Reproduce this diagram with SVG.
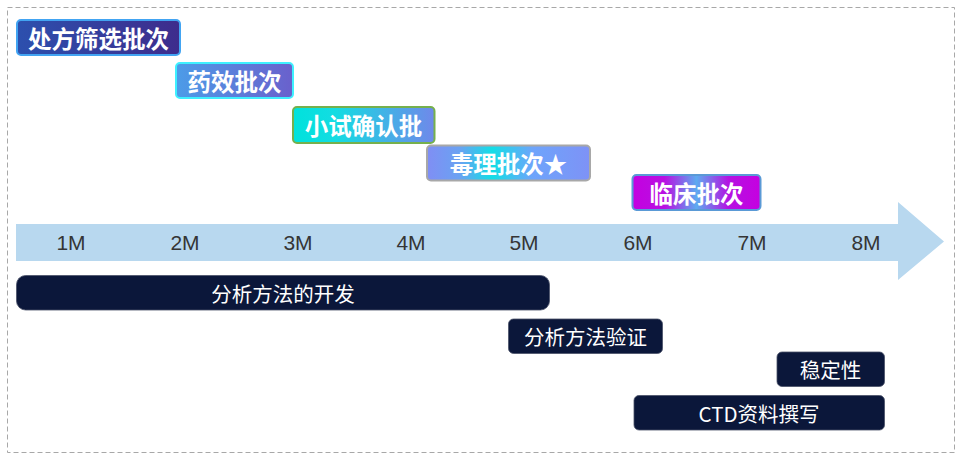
<svg xmlns="http://www.w3.org/2000/svg" width="963" height="462" viewBox="0 0 963 462">
<defs>
<style>
.batch{font-family:"Noto Sans CJK SC","Noto Sans",sans-serif;font-weight:bold;font-size:23.5px;fill:#ffffff;text-anchor:middle;dominant-baseline:central}
.axis{font-family:"Liberation Sans",Arial,sans-serif;font-size:21px;fill:#353535;text-anchor:middle;dominant-baseline:central}
.task{fill:#0b173a;stroke:#4a5268;stroke-width:0.8}
.tasktxt{font-family:"Noto Sans CJK SC","Liberation Sans",sans-serif;font-size:20.5px;fill:#ffffff;text-anchor:middle;dominant-baseline:central}
</style>
<linearGradient id="g1" x1="0" y1="0" x2="1" y2="0"><stop offset="0" stop-color="#2c50ae"/><stop offset="1" stop-color="#3e2c8c"/></linearGradient>
<linearGradient id="g2" x1="0" y1="0" x2="1" y2="0"><stop offset="0" stop-color="#4c9ce8"/><stop offset="1" stop-color="#6a60cc"/></linearGradient>
<linearGradient id="g3" x1="0" y1="0" x2="1" y2="0"><stop offset="0" stop-color="#00e2dc"/><stop offset="0.3" stop-color="#14dce2"/><stop offset="1" stop-color="#7088ea"/></linearGradient>
<linearGradient id="g4" x1="0" y1="0" x2="1" y2="0"><stop offset="0" stop-color="#808ef4"/><stop offset="0.2" stop-color="#6aa2f2"/><stop offset="0.4" stop-color="#12dee6"/><stop offset="0.65" stop-color="#6ea4fb"/><stop offset="1" stop-color="#7e92f6"/></linearGradient>
<linearGradient id="g5" x1="0" y1="0" x2="1" y2="0"><stop offset="0" stop-color="#c400e0"/><stop offset="0.25" stop-color="#b810e2"/><stop offset="0.5" stop-color="#5eaaf0"/><stop offset="0.75" stop-color="#b412e2"/><stop offset="1" stop-color="#c600e0"/></linearGradient>
</defs>
<rect x="0" y="0" width="963" height="462" fill="#ffffff"/>
<rect x="7.5" y="7.5" width="947" height="445" fill="none" stroke="#a8a8a8" stroke-width="1" stroke-dasharray="5 3"/>

<g id="timeline">
<polygon points="16,224 898,224 898,202 944,241.5 898,280 898,261 16,261" fill="#b8d8ef"/>
<text class="axis" x="71" y="242">1M</text>
<text class="axis" x="185" y="242">2M</text>
<text class="axis" x="298" y="242">3M</text>
<text class="axis" x="411" y="242">4M</text>
<text class="axis" x="524" y="242">5M</text>
<text class="axis" x="638" y="242">6M</text>
<text class="axis" x="752" y="242">7M</text>
<text class="axis" x="866" y="242">8M</text>
</g>

<g id="batch1">
<rect x="17" y="20" width="163" height="35" rx="4" fill="url(#g1)" stroke="#42a4f2" stroke-width="2"/>
<text class="batch" x="98.5" y="37.5">处方筛选批次</text>
</g>
<g id="batch2">
<rect x="176" y="63" width="117" height="35" rx="4" fill="url(#g2)" stroke="#3ef0ff" stroke-width="2"/>
<text class="batch" x="234.5" y="80.5">药效批次</text>
</g>
<g id="batch3">
<rect x="293" y="107" width="141.5" height="36" rx="4" fill="url(#g3)" stroke="#76b04c" stroke-width="2"/>
<text class="batch" x="363.5" y="125">小试确认批</text>
</g>
<g id="batch4">
<rect x="427" y="145.5" width="163" height="35" rx="4" fill="url(#g4)" stroke="#a8a8a8" stroke-width="2"/>
<text class="batch" x="508.5" y="163">毒理批次★</text>
</g>
<g id="batch5">
<rect x="632.5" y="175" width="128" height="35" rx="4" fill="url(#g5)" stroke="#5a9ad6" stroke-width="2"/>
<text class="batch" x="696.5" y="192.5">临床批次</text>
</g>

<g id="task1">
<rect class="task" x="16.5" y="275.5" width="533" height="34.5" rx="9"/>
<text class="tasktxt" x="283" y="293">分析方法的开发</text>
</g>
<g id="task2">
<rect class="task" x="508.5" y="319" width="154" height="34.5" rx="5"/>
<text class="tasktxt" x="585.5" y="336">分析方法验证</text>
</g>
<g id="task3">
<rect class="task" x="777" y="352" width="107.5" height="34.5" rx="5"/>
<text class="tasktxt" x="830.5" y="369">稳定性</text>
</g>
<g id="task4">
<rect class="task" x="634" y="395.5" width="250.5" height="34.5" rx="5"/>
<text class="tasktxt" x="759" y="413">CTD资料撰写</text>
</g>
<g id="connectors"></g>
</svg>
